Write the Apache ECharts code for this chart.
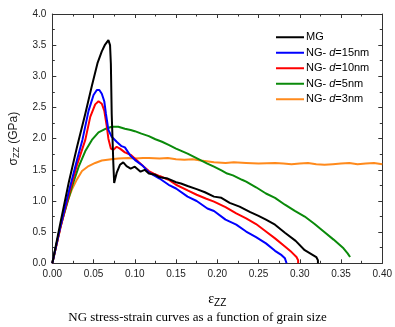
<!DOCTYPE html>
<html>
<head>
<meta charset="utf-8">
<script src="https://cdn.jsdelivr.net/npm/echarts@6/dist/echarts.min.js"></script>
<style>
  html, body { margin: 0; padding: 0; background: #fff; }
  #chart { width: 395px; height: 327px; }
</style>
</head>
<body>
<div id="chart"></div>
<script>
// [strain, stress GPa]
const mgCurve = [
  [0, 0], [0.01, 0.66], [0.02, 1.3], [0.03, 1.87], [0.04, 2.4], [0.048, 2.85],
  [0.055, 3.22], [0.06, 3.4], [0.064, 3.51], [0.068, 3.58], [0.07, 3.5],
  [0.071, 3.2], [0.072, 2.4], [0.074, 1.6], [0.075, 1.29], [0.078, 1.45],
  [0.082, 1.58], [0.086, 1.62], [0.09, 1.56], [0.095, 1.52], [0.1, 1.55],
  [0.107, 1.47], [0.112, 1.5], [0.117, 1.44], [0.125, 1.42], [0.13, 1.38],
  [0.14, 1.36], [0.15, 1.3], [0.156, 1.28], [0.164, 1.24], [0.175, 1.19],
  [0.185, 1.14], [0.196, 1.07], [0.205, 1.05], [0.215, 0.97], [0.227, 0.91],
  [0.24, 0.82], [0.25, 0.76], [0.259, 0.7], [0.27, 0.62], [0.282, 0.49],
  [0.295, 0.36], [0.306, 0.21], [0.315, 0.14], [0.32, 0.1], [0.322, 0.05], [0.322, 0]
];
const ng15Curve = [
  [0, 0], [0.01, 0.6], [0.02, 1.15], [0.03, 1.66], [0.0365, 1.98], [0.044, 2.45],
  [0.05, 2.7], [0.054, 2.78], [0.057, 2.78], [0.06, 2.72], [0.063, 2.6],
  [0.065, 2.4], [0.068, 2.14], [0.072, 2.03], [0.078, 1.95], [0.084, 1.88],
  [0.088, 1.86], [0.092, 1.78], [0.095, 1.72], [0.1, 1.66], [0.11, 1.56],
  [0.117, 1.46], [0.13, 1.36], [0.141, 1.26], [0.15, 1.2], [0.164, 1.07],
  [0.175, 1.0], [0.188, 0.88], [0.196, 0.84], [0.21, 0.7], [0.223, 0.62],
  [0.235, 0.51], [0.247, 0.42], [0.259, 0.32], [0.27, 0.2], [0.278, 0.13],
  [0.282, 0.08], [0.284, 0]
];
const ng10Curve = [
  [0, 0], [0.01, 0.58], [0.02, 1.1], [0.03, 1.58], [0.04, 1.98], [0.046, 2.35],
  [0.052, 2.55], [0.056, 2.6], [0.06, 2.56], [0.063, 2.45], [0.066, 2.2],
  [0.068, 2.0], [0.071, 1.84], [0.074, 1.82], [0.078, 1.87], [0.082, 1.84],
  [0.088, 1.78], [0.095, 1.74], [0.1, 1.68], [0.105, 1.62], [0.111, 1.55],
  [0.117, 1.48], [0.123, 1.44], [0.13, 1.4], [0.141, 1.34], [0.15, 1.26],
  [0.164, 1.17], [0.175, 1.1], [0.186, 1.04], [0.196, 0.99], [0.21, 0.9],
  [0.223, 0.8], [0.235, 0.72], [0.247, 0.63], [0.259, 0.51], [0.27, 0.4],
  [0.282, 0.27], [0.29, 0.18], [0.296, 0.1], [0.298, 0.05], [0.298, 0]
];
const ng5Curve = [
  [0, 0], [0.01, 0.6], [0.0243, 1.25], [0.032, 1.55], [0.04, 1.8], [0.048, 1.98],
  [0.056, 2.1], [0.065, 2.16], [0.072, 2.19], [0.08, 2.19], [0.088, 2.16],
  [0.095, 2.14], [0.1, 2.12], [0.108, 2.08], [0.117, 2.04], [0.125, 1.99],
  [0.133, 1.95], [0.141, 1.9], [0.15, 1.84], [0.164, 1.76], [0.176, 1.68],
  [0.188, 1.6], [0.196, 1.55], [0.205, 1.49], [0.212, 1.44], [0.219, 1.41],
  [0.23, 1.34], [0.235, 1.31], [0.247, 1.22], [0.259, 1.12], [0.27, 1.05],
  [0.282, 0.94], [0.294, 0.84], [0.306, 0.75], [0.318, 0.63], [0.329, 0.51],
  [0.341, 0.38], [0.353, 0.24], [0.358, 0.16], [0.361, 0.1]
];
const ng3Curve = [
  [0, 0], [0.0125, 0.72], [0.018, 0.98], [0.0243, 1.2], [0.03, 1.35], [0.036, 1.48],
  [0.044, 1.56], [0.052, 1.61], [0.06, 1.65], [0.0715, 1.67], [0.08, 1.68],
  [0.092, 1.69], [0.1, 1.68], [0.11, 1.69], [0.117, 1.69], [0.13, 1.68],
  [0.14, 1.69], [0.15, 1.67], [0.16, 1.66], [0.17, 1.67], [0.18, 1.65],
  [0.196, 1.62], [0.21, 1.61], [0.22, 1.62], [0.235, 1.61], [0.25, 1.6],
  [0.27, 1.61], [0.28, 1.6], [0.29, 1.59], [0.3, 1.6], [0.31, 1.61],
  [0.32, 1.59], [0.33, 1.58], [0.34, 1.59], [0.35, 1.6], [0.36, 1.61],
  [0.37, 1.59], [0.38, 1.6], [0.39, 1.61], [0.4, 1.59]
];

const seriesNames = ["MG", "NG- d=15nm", "NG- d=10nm", "NG- d=5nm", "NG- d=3nm"];
const seriesColors = ["#000000", "#0000ff", "#ff0000", "#0a8a0a", "#ff8a1c"];
const curves = [mgCurve, ng15Curve, ng10Curve, ng5Curve, ng3Curve];
const caption = "NG stress-strain curves as a function of grain size";

const chart = echarts.init(document.getElementById("chart"), null, { renderer: "canvas" });

const axisColor = "#333";
const frameAxis = {
  axisLine: { show: true, onZero: false, lineStyle: { color: axisColor, width: 1 } },
  axisTick: { show: true, inside: true, length: 4, lineStyle: { color: axisColor } },
  minorTick: { show: true, splitNumber: 2, length: 2.5, lineStyle: { color: axisColor } },
  splitLine: { show: false },
};
const tickFont = { color: "#222", fontSize: 10, fontFamily: "Liberation Sans, Arial, sans-serif" };

chart.setOption({
  animation: false,
  backgroundColor: "#fff",
  title: {
    text: caption,
    left: "center",
    top: 306,
    textStyle: { fontFamily: "Liberation Serif, Times New Roman, serif", fontSize: 13, fontWeight: "normal", color: "#000" },
  },
  grid: { left: 50.7, right: 5.1, top: 14, bottom: 63.7 },
  legend: {
    orient: "vertical",
    left: 271,
    top: 26,
    icon: "rect",
    itemWidth: 28,
    itemHeight: 2,
    itemGap: 3,
    data: seriesNames,
    formatter: (name) => name.replace(" d=", " {i|d}="),
    textStyle: {
      fontFamily: "Liberation Sans, Arial, sans-serif",
      fontSize: 11,
      lineHeight: 12.5,
      color: "#000",
      padding: [0, 0, 0, -3],
      rich: { i: { fontStyle: "italic", fontSize: 11, lineHeight: 12.5, fontFamily: "Liberation Sans, Arial, sans-serif" } },
    },
  },
  xAxis: [
    {
      type: "value",
      min: 0,
      max: 0.4,
      interval: 0.05,
      ...frameAxis,
      axisLabel: { ...tickFont, margin: 6, formatter: (v) => v.toFixed(2) },
      name: "{e|ε}{s|ZZ}",
      nameLocation: "middle",
      nameGap: 28,
      nameTextStyle: {
        rich: {
          e: { fontFamily: "Liberation Serif, serif", fontSize: 14, color: "#000" },
          s: { fontFamily: "Liberation Sans, sans-serif", fontSize: 10, color: "#000", padding: [7, 0, 0, 0] },
        },
      },
    },
    {
      type: "value",
      position: "top",
      min: 0,
      max: 0.4,
      interval: 0.05,
      ...frameAxis,
      axisLabel: { show: false },
    },
  ],
  yAxis: [
    {
      type: "value",
      min: 0,
      max: 4,
      interval: 0.5,
      ...frameAxis,
      axisLabel: { ...tickFont, margin: 6, formatter: (v) => v.toFixed(1) },
      name: "{e|σ}{s|ZZ}{t| (GPa)}",
      nameLocation: "middle",
      nameRotate: 90,
      nameGap: 24,
      nameTextStyle: {
        rich: {
          e: { fontFamily: "Liberation Sans, sans-serif", fontSize: 12, color: "#222" },
          s: { fontFamily: "Liberation Sans, sans-serif", fontSize: 9, color: "#222", padding: [6, 0, 0, 0] },
          t: { fontFamily: "Liberation Sans, sans-serif", fontSize: 12, color: "#222" },
        },
      },
    },
    {
      type: "value",
      position: "right",
      min: 0,
      max: 4,
      interval: 0.5,
      ...frameAxis,
      axisLabel: { show: false },
    },
  ],
  series: curves.map((c, i) => ({
    name: seriesNames[i],
    type: "line",
    data: c,
    symbol: "none",
    showSymbol: false,
    color: seriesColors[i],
    lineStyle: { color: seriesColors[i], width: 2 },
    z: 10 - i,
  })),
});
</script>
</body>
</html>
